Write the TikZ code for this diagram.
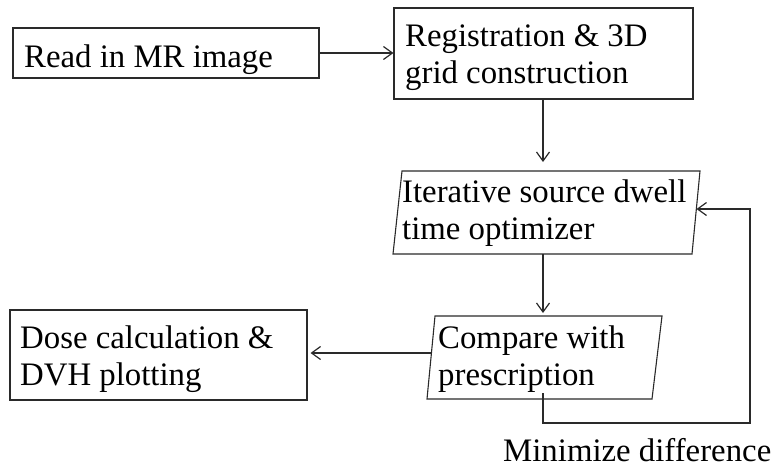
\documentclass[tikz,border=0pt]{standalone}
\usepackage{fontspec}
\setmainfont{Liberation Serif}
\usetikzlibrary{arrows.meta}
\definecolor{ink}{HTML}{2A2A2A}
\begin{document}
\begin{tikzpicture}[x=1pt,y=-1pt,
  stepbox/.style={draw=ink, line width=1.1pt, inner sep=0pt, fill=white},
  % single-line label, anchored at its baseline
  label/.style={inner sep=0pt, anchor=base west, text=black,
    font=\fontsize{32.8}{37.6}\selectfont},
  % multi-line labels are anchored at the baseline of their last line
  lines/.style={label, align=left},
  flow/.style={draw=ink, line width=1.1pt,
    -{Straight Barb[length=9pt,width=13pt,line width=1.2pt]}},
  plain/.style={draw=ink, line width=1.1pt}]
\useasboundingbox (0,0) rectangle (776,467);

% rectangular steps
\node[stepbox, minimum width=306pt, minimum height=50pt] (read) at (166,53) {};
\node[stepbox, minimum width=299pt, minimum height=91pt] (reg) at (543.5,53.5) {};
\node[stepbox, minimum width=297pt, minimum height=90pt] (dvh) at (158.5,355) {};

% slanted steps (parallelograms)
\coordinate (opt-nw) at (402,171);
\coordinate (opt-ne) at (700,171);
\coordinate (opt-se) at (692,254);
\coordinate (opt-sw) at (393,254);
\coordinate (opt-n) at (543,171);
\coordinate (opt-s) at (543,254);
\coordinate (opt-e) at (696.5,209);
\draw[plain, fill=white] (opt-nw) -- (opt-ne) -- (opt-se) -- (opt-sw) -- cycle;

\coordinate (cmp-nw) at (435,316);
\coordinate (cmp-ne) at (662,316);
\coordinate (cmp-se) at (652,399);
\coordinate (cmp-sw) at (427,399);
\coordinate (cmp-n) at (543,316);
\coordinate (cmp-w) at (431.4,353);
\coordinate (cmp-in) at (543,393);
\draw[plain, fill=white] (cmp-nw) -- (cmp-ne) -- (cmp-se) -- (cmp-sw) -- cycle;

% texts
\node[label] (read-t) at (24,67) {Read in MR image};
\node[lines] (reg-t) at (405,83.6) {Registration \& 3D\\grid construction};
\node[lines] (opt-t) at (402,239.6) {Iterative source dwell\\time optimizer};
\node[lines] (cmp-t) at (438,385.6) {Compare with\\prescription};
\node[lines] (dvh-t) at (20,385.6) {Dose calculation \&\\DVH plotting};
\node[label] (loop-t) at (503,461.5) {Minimize difference};

% connectors
\draw[flow] (read.east) -- (read.east -| reg.west);
\draw[flow, shorten >=9pt] (opt-n |- reg.south) -- (opt-n);
\draw[flow, shorten >=3pt] (opt-s) -- (cmp-n);
\draw[flow, shorten >=3pt] (cmp-w) -- (cmp-w -| dvh.east);
\coordinate (loop-corner) at (750,423);
\draw[flow] (cmp-in) |- (loop-corner) |- (opt-e);
\end{tikzpicture}
\end{document}
